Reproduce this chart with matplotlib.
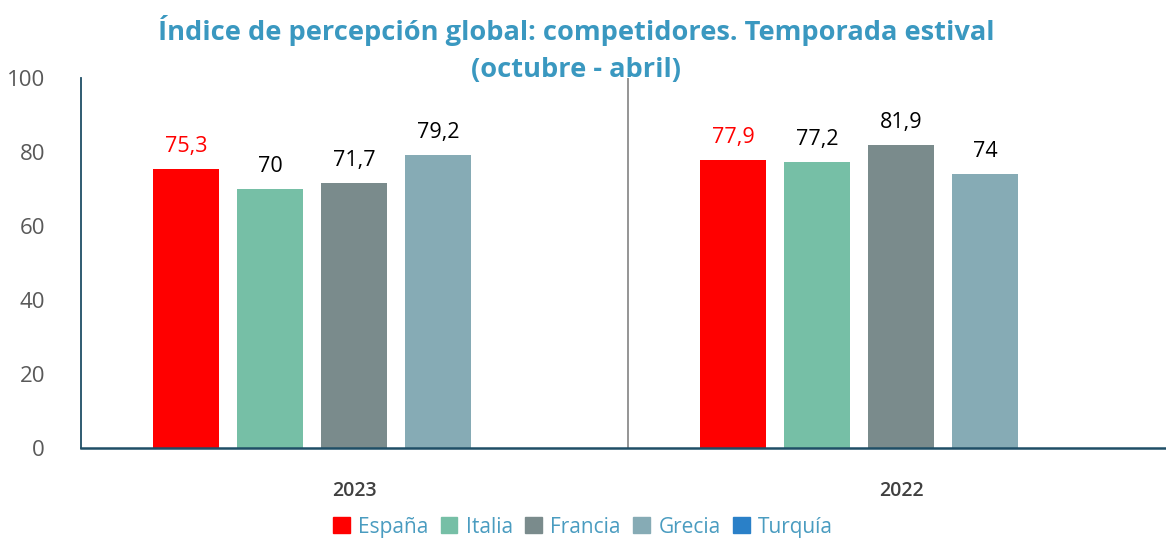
import matplotlib
matplotlib.use("Agg")
import matplotlib.pyplot as plt
from matplotlib.patches import Patch

plt.rcParams['font.family'] = ['Open Sans', 'DejaVu Sans']

years = ["2023", "2022"]
countries = ["España", "Italia", "Francia", "Grecia", "Turquía"]
values = {
    "España": [75.3, 77.9],
    "Italia": [70, 77.2],
    "Francia": [71.7, 81.9],
    "Grecia": [79.2, 74],
    "Turquía": [None, None],
}
colors = ["#FF0000", "#76BFA6", "#7A8B8C", "#86ABB5", "#2A80C8"]
label_colors = ["#FF0000", "#000000", "#000000", "#000000", "#000000"]


def fmt(v):
    s = ("%g" % v).replace(".", ",")
    return s


fig = plt.figure(figsize=(11.66, 5.39), dpi=100)
ax = fig.add_axes([0.0695, 0.1688, 0.938, 0.6865])

pitch = 0.1536
width = 0.1207
for i, c in enumerate(countries):
    for j, v in enumerate(values[c]):
        if v is None:
            continue
        x = j + 0.5 + (i - 2) * pitch
        ax.bar(x, v, width=width, color=colors[i])
        ax.annotate(fmt(v), (x, v), xytext=(0, 12), textcoords="offset pixels",
                    ha="center", va="bottom", fontsize=15.5, color=label_colors[i])

ax.set_xlim(0, 2)
ax.set_ylim(0, 100)
ax.set_yticks([0, 20, 40, 60, 80, 100])
ax.tick_params(axis="y", length=0, labelsize=16, labelcolor="#595959", pad=26)
ax.set_xticks([0.5, 1.5])
ax.set_xticklabels(years, fontsize=14, color="#404040", fontweight="semibold")
ax.tick_params(axis="x", length=0, pad=24)
ax.axvline(1, color="#8C8C8C", lw=1.3)

for s in ["top", "right"]:
    ax.spines[s].set_visible(False)
ax.spines["left"].set_color("#1F4E66")
ax.spines["bottom"].set_color("#1F4E66")
ax.spines["left"].set_linewidth(1.3)
ax.spines["bottom"].set_linewidth(1.8)

fig.text(0.494, 0.909, "Índice de percepción global: competidores. Temporada estival\n(octubre - abril)",
         ha="center", va="center", fontsize=19.6, fontweight="bold", color="#3A98C0",
         linespacing=1.55)

handles = [Patch(color=c) for c in colors]
fig.legend(handles, countries, loc="center", bbox_to_anchor=(0.5, 0.022), ncol=5,
           frameon=False, fontsize=15, labelcolor="#4A9CC0", handlelength=0.8,
           handleheight=0.8, handletextpad=0.4, columnspacing=0.6)

fig.savefig("out.png", dpi=100)
